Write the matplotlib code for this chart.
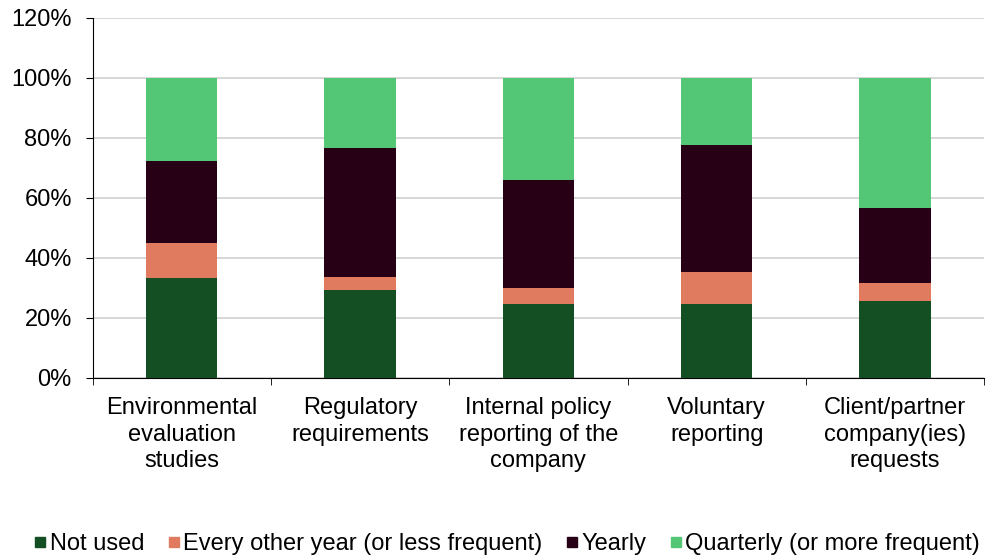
import numpy as np
import matplotlib.pyplot as plt
from matplotlib.lines import Line2D

plt.rcParams['font.family'] = ['Liberation Sans', 'DejaVu Sans']

categories = ['Environmental\nevaluation\nstudies', 'Regulatory\nrequirements',
              'Internal policy\nreporting of the\ncompany', 'Voluntary\nreporting',
              'Client/partner\ncompany(ies)\nrequests']
not_used = [33.3, 29.1, 24.7, 24.6, 25.7]
every_other = [11.6, 4.6, 5.3, 10.6, 6.0]
yearly = [27.3, 42.8, 35.8, 42.3, 24.9]
quarterly = [27.8, 23.5, 34.2, 22.5, 43.4]

series = [('Not used', not_used, '#134f22'),
          ('Every other year (or less frequent)', every_other, '#e07b60'),
          ('Yearly', yearly, '#270016'),
          ('Quarterly (or more frequent)', quarterly, '#53c776')]

fig = plt.figure(figsize=(9.92, 5.57), dpi=100)
ax = fig.add_axes([0.0934, 0.3219, 0.8987, 0.6463])

x = np.arange(len(categories))
bottom = np.zeros(len(categories))
for name, vals, col in series:
    ax.bar(x, vals, bottom=bottom, width=0.4, color=col, zorder=3)
    bottom += np.array(vals)

ax.set_xlim(-0.5, len(categories) - 0.5)
ax.set_ylim(0, 120)
ax.set_yticks(range(0, 121, 20))
ax.set_yticklabels([f'{v}%' for v in range(0, 121, 20)])
ax.yaxis.grid(True, color='#d0d0d0', linewidth=1.2, zorder=0)

ax.set_xticks(x)
ax.set_xticklabels(categories, linespacing=1.27)
ax.set_xticks(np.arange(-0.5, len(categories)), minor=True)
ax.tick_params(axis='x', which='major', length=0, pad=14, labelsize=17)
ax.tick_params(axis='x', which='minor', length=5, direction='out')
ax.tick_params(axis='y', length=5, labelsize=17, pad=10)

for s in ['top', 'right']:
    ax.spines[s].set_visible(False)

handles = [Line2D([], [], marker='s', linestyle='', markersize=7.5, color=c) for _, _, c in series]
fig.legend(handles, [n for n, _, _ in series], loc='lower center', bbox_to_anchor=(0.51, -0.035),
           ncol=4, frameon=False, fontsize=17, handletextpad=0.05, columnspacing=0.9,
           handlelength=0.7)

fig.savefig('out.png', dpi=100)
